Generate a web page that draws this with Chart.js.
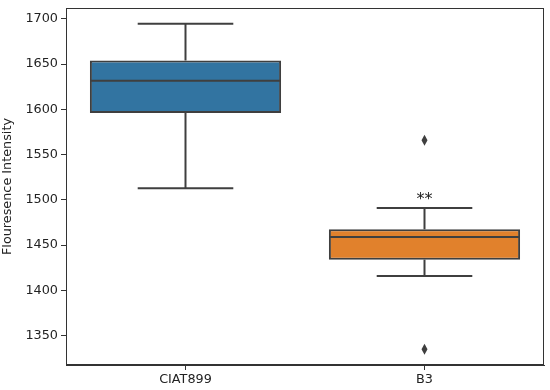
<!DOCTYPE html>
<html>
<head>
<meta charset="utf-8">
<script src="https://cdn.jsdelivr.net/npm/chart.js@4/dist/chart.umd.min.js"></script>
<style>
  html, body { margin: 0; padding: 0; background: #fff; }
  #wrap { width: 550px; height: 390px; }
</style>
</head>
<body>
<div id="wrap"><canvas id="boxChart"></canvas></div>
<script>
// box plot values
const categories = ['CIAT899', 'B3'];
const whiskerLow = [1513, 1416];
const q1 = [1596, 1434];
const median = [1631.5, 1459];
const q3 = [1654, 1467.5];
const whiskerHigh = [1694.5, 1491];
const outliers = [[], [1566, 1335]];
const marks = ['', '**'];
const yTicks = [1350, 1400, 1450, 1500, 1550, 1600, 1650, 1700];

const boxColors = ['#3274a1', '#e1812c'];
const edge = '#3f3f3f';
const fontFamily = "'DejaVu Sans', sans-serif";

// whiskers, medians, fliers, frame and significance stars
const boxExtras = {
  id: 'boxExtras',
  afterDatasetsDraw(chart) {
    const ctx = chart.ctx;
    const xs = chart.scales.x;
    const ys = chart.scales.y;
    const bars = chart.getDatasetMeta(0).data;
    ctx.save();
    ctx.strokeStyle = edge;
    ctx.lineWidth = 2;
    categories.forEach((c, i) => {
      const x = xs.getPixelForValue(i);
      const w = bars[i].width;
      const cap = w / 4;
      const line = (x1, y1, x2, y2) => {
        ctx.beginPath();
        ctx.moveTo(x1, y1);
        ctx.lineTo(x2, y2);
        ctx.stroke();
      };
      line(x, ys.getPixelForValue(q3[i]), x, ys.getPixelForValue(whiskerHigh[i]));
      line(x, ys.getPixelForValue(q1[i]), x, ys.getPixelForValue(whiskerLow[i]));
      line(x - cap, ys.getPixelForValue(whiskerHigh[i]), x + cap, ys.getPixelForValue(whiskerHigh[i]));
      line(x - cap, ys.getPixelForValue(whiskerLow[i]), x + cap, ys.getPixelForValue(whiskerLow[i]));
      line(x - w / 2 + 1, ys.getPixelForValue(median[i]), x + w / 2 - 1, ys.getPixelForValue(median[i]));

      ctx.fillStyle = edge;
      outliers[i].forEach(v => {
        const y = ys.getPixelForValue(v);
        ctx.beginPath();
        ctx.moveTo(x, y - 5.5);
        ctx.lineTo(x + 3, y);
        ctx.lineTo(x, y + 5.5);
        ctx.lineTo(x - 3, y);
        ctx.closePath();
        ctx.fill();
      });

      if (marks[i]) {
        ctx.fillStyle = '#222';
        ctx.font = '16px ' + fontFamily;
        ctx.textAlign = 'center';
        ctx.textBaseline = 'alphabetic';
        ctx.fillText(marks[i], x, ys.getPixelForValue(whiskerHigh[i]) - 4);
      }
    });

    const a = chart.chartArea;
    ctx.strokeStyle = '#333';
    ctx.lineWidth = 1;
    ctx.strokeRect(a.left + 0.5, a.top + 0.5, a.right - a.left - 1, a.bottom - a.top - 1);
    ctx.restore();
  }
};

new Chart(document.getElementById('boxChart'), {
  type: 'bar',
  data: {
    labels: categories,
    datasets: [{
      data: categories.map((c, i) => [q1[i], q3[i]]),
      backgroundColor: boxColors,
      borderColor: edge,
      borderWidth: 2,
      borderSkipped: false,
      barPercentage: 0.8,
      categoryPercentage: 1.0
    }]
  },
  options: {
    responsive: true,
    maintainAspectRatio: false,
    animation: false,
    layout: { padding: { top: 8, right: 6, left: 0, bottom: 0 } },
    plugins: {
      legend: { display: false },
      tooltip: { enabled: false }
    },
    scales: {
      x: {
        grid: { display: true, offset: false, drawOnChartArea: false, drawTicks: true, tickLength: 5, tickColor: '#333' },
        border: { color: '#333' },
        ticks: { color: '#222', padding: 2, font: { family: fontFamily, size: 12.8 } },
        afterFit: s => { s.height = 25; }
      },
      y: {
        min: 1317.6,
        max: 1712,
        afterBuildTicks: s => { s.ticks = yTicks.map(v => ({ value: v })); },
        grid: { display: true, drawOnChartArea: false, drawTicks: true, tickLength: 5, tickColor: '#333' },
        border: { color: '#333' },
        ticks: {
          color: '#222',
          padding: 3,
          font: { family: fontFamily, size: 12.8 },
          callback: v => String(v)
        },
        title: {
          display: true,
          text: 'Flouresence Intensity',
          color: '#222',
          padding: { top: 0, bottom: 4 },
          font: { family: fontFamily, size: 12.8 }
        },
        afterFit: s => {
          s.width = 66;
          s.paddingTop = 0;
          s.paddingBottom = 0;
        }
      }
    }
  },
  plugins: [boxExtras]
});
</script>
</body>
</html>
